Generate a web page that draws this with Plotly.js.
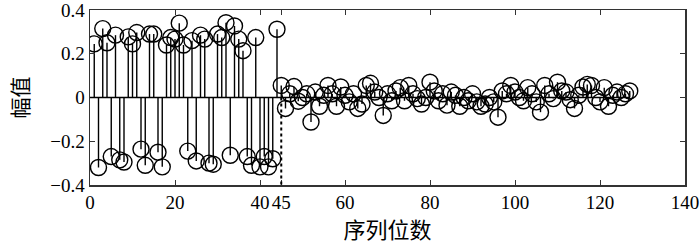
<!DOCTYPE html>
<html>
<head>
<meta charset="utf-8">
<script src="https://cdn.plot.ly/plotly-3.0.1.min.js"></script>
<style>html,body{margin:0;padding:0;background:#fff;}#chart{width:700px;height:244px;}</style>
</head>
<body>
<div id="chart"></div>
<script>
// Amplitude per sequence index (1..44: large alternating part, 45..127: small residual part)
const part1 = [0.245,-0.32,0.315,0.25,-0.27,0.285,-0.285,-0.295,0.277,0.245,
  0.297,-0.236,-0.31,0.29,0.29,-0.25,-0.317,0.24,0.274,0.267,
  0.34,0.24,-0.245,0.26,-0.29,0.285,0.267,-0.30,-0.305,0.29,
  0.274,0.342,-0.264,0.327,0.267,0.214,-0.27,-0.31,0.274,-0.317,
  -0.27,-0.317,-0.28,0.312];
const part2 = [0.055,-0.05,0.017,0.05,-0.017,0.0,0.017,-0.112,0.025,-0.04,
  0.01,0.055,0.017,-0.04,0.048,0.01,-0.02,0.017,-0.05,-0.03,
  0.055,0.065,0.025,0.0,-0.082,0.017,-0.015,0.03,0.045,-0.015,
  0.055,0.017,-0.005,-0.03,0.0,0.07,0.03,-0.015,0.017,-0.035,
  0.025,0.01,-0.04,0.0,-0.015,0.017,-0.02,-0.04,-0.03,0.0,
  -0.02,-0.09,0.03,0.017,0.055,0.025,0.0,-0.015,0.045,0.017,
  -0.02,-0.067,0.055,0.017,-0.005,0.07,0.03,0.025,-0.01,-0.05,
  0.01,0.048,0.06,0.055,0.0,-0.02,0.045,-0.04,0.01,0.025,
  0.0,0.017,0.03];
const splitIndex = 45;
const xTicks = [0,20,40,45,60,80,100,120,140];
const yTicks = [-0.4,-0.2,0,0.2,0.4];
const yTickText = ['\u22120.4','\u22120.2','0','0.2','0.4'];

const values = part1.concat(part2);
const idx = values.map((_, i) => i + 1);

const sx = [], sy = [];
idx.forEach((n, i) => { sx.push(n, n, null); sy.push(0, values[i], null); });

const traces = [
  {x: sx, y: sy, type: 'scatter', mode: 'lines', line: {color: '#000', width: 1.4}, hoverinfo: 'skip'},
  {x: idx, y: values, type: 'scatter', mode: 'markers',
   marker: {symbol: 'circle-open', size: 16, color: '#000', line: {color: '#000', width: 1.4}}}
];

const tickFont = {family: '"Liberation Serif", "Times New Roman", serif', size: 19, color: '#000'};
const layout = {
  width: 700, height: 244,
  margin: {l: 90, r: 15, t: 10, b: 59},
  paper_bgcolor: '#fff', plot_bgcolor: '#fff',
  showlegend: false,
  font: tickFont,
  xaxis: {
    range: [0, 140], tickvals: xTicks, ticktext: xTicks.map(String), tickangle: 0,
    ticks: 'inside', ticklen: 5, tickwidth: 1, tickcolor: '#333',
    showline: true, linecolor: '#333', linewidth: 1.5, mirror: 'ticks',
    showgrid: false, zeroline: false, tickfont: tickFont, ticklabeloverflow: 'allow',
    title: {text: '序列位数', font: {family: 'Noto Sans CJK SC', size: 22, color: '#000'}, standoff: 2}
  },
  yaxis: {
    range: [-0.4, 0.4], tickvals: yTicks, ticktext: yTickText,
    ticks: 'inside', ticklen: 5, tickwidth: 1, tickcolor: '#333',
    showline: true, linecolor: '#333', linewidth: 1.5, mirror: 'ticks',
    showgrid: false, zeroline: false, tickfont: tickFont, ticklabeloverflow: 'allow',
    title: {text: '幅值', font: {family: 'Noto Sans CJK SC', size: 21, color: '#000'}, standoff: 16}
  },
  shapes: [
    {type: 'line', xref: 'x', yref: 'y', x0: 0, x1: idx[idx.length - 1], y0: 0, y1: 0,
     line: {color: '#000', width: 1.4}},
    {type: 'line', xref: 'x', yref: 'y', x0: splitIndex, x1: splitIndex, y0: 0, y1: -0.4,
     line: {color: '#000', width: 2, dash: 'dot'}}
  ]
};

Plotly.newPlot('chart', traces, layout, {staticPlot: true, displayModeBar: false});
</script>
</body>
</html>
